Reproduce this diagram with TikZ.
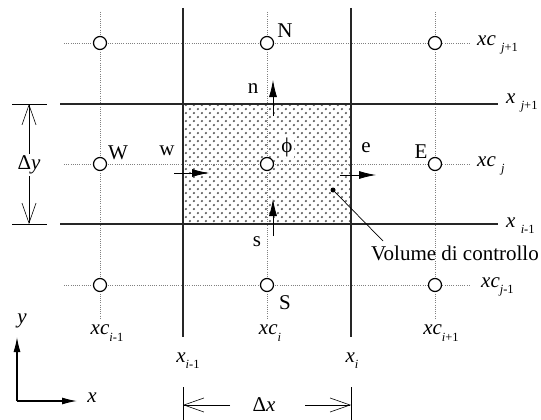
\documentclass[tikz,border=0pt]{standalone}
\usepackage{fontspec}
\setmainfont{Liberation Serif}
\usetikzlibrary{arrows.meta,patterns.meta}
\pgfdeclarepattern{
  name=cvdots,
  bottom left={\pgfpoint{0pt}{0pt}},
  top right={\pgfpoint{8.4pt}{8.4pt}},
  tile size={\pgfpoint{8.4pt}{8.4pt}},
  code={
    \pgfpathcircle{\pgfpoint{2.1pt}{2.1pt}}{1.3pt}
    \pgfpathcircle{\pgfpoint{6.3pt}{6.3pt}}{1.3pt}
    \pgfusepath{fill}
  }
}
\newcommand\mysub[1]{\raisebox{-0.3em}{\fontsize{12.5}{14}\selectfont #1}}
\begin{document}
\begin{tikzpicture}[x=1pt,y=-1pt,
  every node/.style={font=\fontsize{21}{24}\selectfont, inner sep=0pt},
  gridline/.style={line width=1.5pt, black!85},
  guide/.style={gray, line width=0.8pt, dash pattern=on 1pt off 1.2pt},
  centre/.style={circle, draw, fill=white, line width=1.2pt, minimum size=13pt},
  flux/.style={line width=0.8pt, -{Latex[length=17pt,width=8pt]}},
  dimarrow/.style={line width=0.6pt, -{Straight Barb[length=20pt,width=14pt]}},
  tickline/.style={line width=0.8pt},
  axisarrow/.style={line width=1.2pt, -{Latex[length=15pt,width=7pt]}},
]
\useasboundingbox (0,0) rectangle (541,420);
% control volume
\path[pattern=cvdots, pattern color=black!65] (183,104) rectangle (351,224);
% guide lines
\coordinate (gh1a) at (64,43);  \coordinate (gh1b) at (471,43);
\coordinate (gh2a) at (64,164); \coordinate (gh2b) at (471,164);
\coordinate (gh3a) at (64,285); \coordinate (gh3b) at (471,285);
\coordinate (gv1a) at (100,12); \coordinate (gv1b) at (100,318);
\coordinate (gv2a) at (267,12); \coordinate (gv2b) at (267,318);
\coordinate (gv3a) at (435,12); \coordinate (gv3b) at (435,318);
\draw[guide] (gh1a) -- (gh1b);
\draw[guide] (gh2a) -- (gh2b);
\draw[guide] (gh3a) -- (gh3b);
\draw[guide] (gv1a) -- (gv1b);
\draw[guide] (gv2a) -- (gv2b);
\draw[guide] (gv3a) -- (gv3b);
% faces
\coordinate (fv1a) at (183,8); \coordinate (fv1b) at (183,337);
\coordinate (fv2a) at (351,8); \coordinate (fv2b) at (351,337);
\coordinate (fh1a) at (60,104); \coordinate (fh1b) at (498,104);
\coordinate (fh2a) at (60,224); \coordinate (fh2b) at (498,224);
\draw[gridline] (fv1a) -- (fv1b);
\draw[gridline] (fv2a) -- (fv2b);
\draw[gridline] (fh1a) -- (fh1b);
\draw[gridline] (fh2a) -- (fh2b);
% nodes
\node[centre] (NW) at (100,43) {};
\node[centre] (N)  at (267,43) {};
\node[centre] (NE) at (435,43) {};
\node[centre] (W)  at (100,164) {};
\node[centre] (P)  at (267,164) {};
\node[centre] (E)  at (435,164) {};
\node[centre] (SW) at (100,285) {};
\node[centre] (S)  at (267,285) {};
\node[centre] (SE) at (435,285) {};
% labels
\node (lN) at (285,31) {N};
\node (lW) at (118,153) {W};
\node (lw) at (167,151) {w};
\node (ln) at (253,89) {n};
\node[fill=white, inner sep=1pt] (lphi) at (287,147) {ϕ};
\node (le) at (366,148) {e};
\node (lE) at (421,152) {E};
\node (ls) at (257,242) {s};
\node (lS) at (285,303) {S};
% flux arrows
\coordinate (wa) at (174,173); \coordinate (wb) at (209,173);
\coordinate (ea) at (340,175); \coordinate (eb) at (376,175);
\coordinate (na) at (273,116); \coordinate (nb) at (273,80);
\coordinate (sa) at (273,236); \coordinate (sb) at (273,199);
\draw[flux] (wa) -- (wb);
\draw[flux] (ea) -- (eb);
\draw[flux] (na) -- (nb);
\draw[flux] (sa) -- (sb);
% right labels
\node[anchor=west] (xcj1) at (477,45) {\textit{xc} \mysub{\textit{j}+1}};
\node[anchor=west] (xj1) at (506,103) {\textit{x} \mysub{\textit{j}+1}};
\node[anchor=west] (xcj) at (477,166) {\textit{xc} \mysub{\textit{j}}};
\node[anchor=west] (xjm) at (506,226) {\textit{x} \mysub{\textit{i}-1}};
\node[anchor=west] (xcjm) at (481,287) {\textit{xc}\mysub{\textit{j}-1}};
% bottom labels
\node (xcim) at (107,333) {\textit{xc}\mysub{\textit{i}-1}};
\node (xci) at (270,333) {\textit{xc}\mysub{\textit{i}}};
\node (xcip) at (441,333) {\textit{xc}\mysub{\textit{i}+1}};
\node (xim) at (188,361) {\textit{x}\mysub{\textit{i}-1}};
\node (xi) at (352,361) {\textit{x}\mysub{\textit{i}}};
% control volume label
\node[circle, fill, minimum size=5pt] (cvdot) at (333,190) {};
\node (cvl) at (455,253) {Volume di controllo};
\coordinate (cvend) at (383,241);
\draw[line width=0.7pt] (cvdot) -- (cvend);
% delta y
\node[fill=white, inner sep=2pt] (dy) at (29,165) {Δ\textit{y}};
\coordinate (dyt1) at (12,104); \coordinate (dyt2) at (47,104);
\coordinate (dyb1) at (12,224); \coordinate (dyb2) at (47,224);
\draw[tickline] (dyt1) -- (dyt2);
\draw[tickline] (dyb1) -- (dyb2);
\coordinate (dytop) at (29,104); \coordinate (dybot) at (29,224);
\draw[dimarrow] (dy.north) -- (dytop);
\draw[dimarrow] (dy.south) -- (dybot);
% delta x
\node (dx) at (264,405) {Δ\textit{x}};
\coordinate (dxl1) at (183,387); \coordinate (dxl2) at (183,420);
\coordinate (dxr1) at (351,387); \coordinate (dxr2) at (351,420);
\draw[tickline] (dxl1) -- (dxl2);
\draw[tickline] (dxr1) -- (dxr2);
\coordinate (dxa) at (230,405); \coordinate (dxla) at (183,405);
\coordinate (dxb) at (305,405); \coordinate (dxrb) at (351,405);
\draw[dimarrow] (dxa) -- (dxla);
\draw[dimarrow] (dxb) -- (dxrb);
% axes
\coordinate (O) at (17,401);
\coordinate (Oy) at (17,337);
\coordinate (Ox) at (77,401);
\draw[axisarrow] (O) -- (Oy);
\draw[axisarrow] (O) -- (Ox);
\node (ly) at (22,321) {\textit{y}};
\node (lx) at (92,398) {\textit{x}};
\end{tikzpicture}
\end{document}
